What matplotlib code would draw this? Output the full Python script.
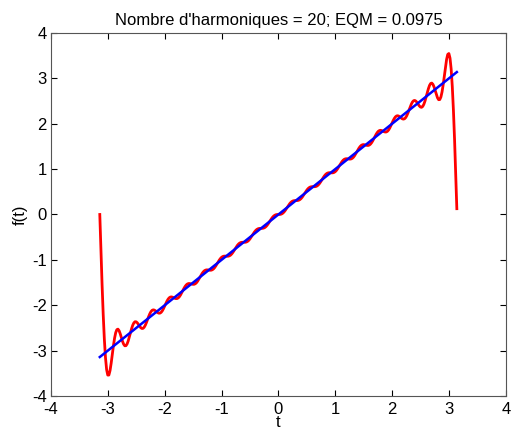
import numpy as np
import matplotlib
matplotlib.use('Agg')
import matplotlib.pyplot as plt

matplotlib.rcParams['font.family'] = ['Liberation Sans', 'DejaVu Sans']
matplotlib.rcParams['font.size'] = 12
matplotlib.rcParams['axes.unicode_minus'] = False

# sine coefficients b_n of the Fourier series of f(t) = t on [-pi, pi], n = 1..20
b_coeffs = [2.0, -1.0, 0.666667, -0.5, 0.4, -0.333333, 0.285714, -0.25,
            0.222222, -0.2, 0.181818, -0.166667, 0.153846, -0.142857,
            0.133333, -0.125, 0.117647, -0.111111, 0.105263, -0.1]
t_start, t_step = -np.pi, 0.02
title_txt = "Nombre d'harmoniques = 20; EQM = 0.0975"
xticks = [-4, -3, -2, -1, 0, 1, 2, 3, 4]
yticks = [-4, -3, -2, -1, 0, 1, 2, 3, 4]

t = np.arange(t_start, np.pi, t_step)
f_approx = np.zeros_like(t)
for n, bn in enumerate(b_coeffs, start=1):
    f_approx += bn * np.sin(n * t)

fig = plt.figure(figsize=(5.13, 4.34), dpi=100)
ax = fig.add_axes([0.0994, 0.0876, 0.8866, 0.8364])
ax.plot(t, f_approx, color='red', lw=2)
ax.plot(t, t, color='blue', lw=1.8)

ax.set_xlim(-4, 4)
ax.set_ylim(-4, 4)
ax.set_xticks(xticks)
ax.set_yticks(yticks)
ax.tick_params(direction='in', top=True, right=True, length=4, labelsize=12)
ax.tick_params(axis='x', pad=4)
ax.tick_params(axis='y', pad=3)
for s in ax.spines.values():
    s.set_color('#555555')
    s.set_linewidth(0.8)
ax.set_xlabel('t', fontsize=12, labelpad=-1)
ax.set_ylabel('f(t)', fontsize=12, labelpad=3)
ax.set_title(title_txt, fontsize=12, pad=6)

plt.savefig('out.png', dpi=100)
